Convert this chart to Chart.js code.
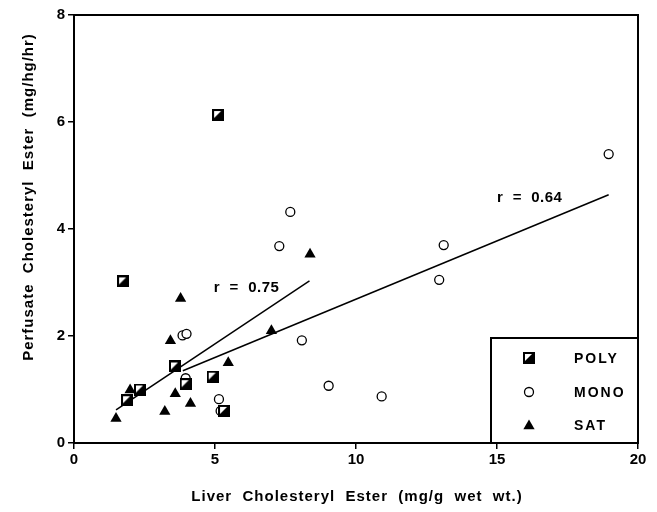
<!DOCTYPE html>
<html>
<head>
<meta charset="utf-8">
<script src="https://cdn.jsdelivr.net/npm/chart.js@4.4.1/dist/chart.umd.min.js"></script>
<style>
  html, body { margin: 0; padding: 0; background: #fff; }
  #wrap { width: 657px; height: 512px; }
</style>
</head>
<body>
<div id="wrap"><canvas id="chart" width="657" height="512"></canvas></div>
<script>
// Data
const polyX = [5.11, 1.74, 3.58, 4.92, 3.96, 2.34, 1.88, 5.32];
const polyY = [6.13, 3.02, 1.43, 1.24, 1.10, 1.00, 0.80, 0.60];

const monoX = [18.96, 7.67, 7.28, 13.11, 12.95, 3.85, 3.99, 8.08, 9.03, 3.96, 5.14, 5.20, 10.91];
const monoY = [5.40, 4.32, 3.68, 3.70, 3.05, 2.01, 2.04, 1.92, 1.07, 1.21, 0.82, 0.60, 0.87];

const satX = [8.37, 3.78, 3.42, 7.00, 5.47, 3.59, 4.13, 3.22, 1.99, 1.49];
const satY = [3.53, 2.70, 1.91, 2.10, 1.50, 0.92, 0.74, 0.59, 0.99, 0.46];

// regression lines
const fitAX = [1.49, 8.35];
const fitAY = [0.62, 3.03];
const fitBX = [3.86, 18.96];
const fitBY = [1.35, 4.64];

const seriesNames = ['POLY', 'MONO', 'SAT'];
const fitLabels = ['r  =  0.75', 'r  =  0.64'];
const fitLabelX = [4.96, 15.0];
const fitLabelY = [2.90, 4.58];

const xTitle = 'Liver  Cholesteryl  Ester  (mg/g  wet  wt.)';
const yTitle = 'Perfusate  Cholesteryl  Ester  (mg/hg/hr)';

const FONT = "'Liberation Sans', Arial, Helvetica, sans-serif";

const toPoints = (xs, ys) => xs.map((x, i) => ({ x: x, y: ys[i] }));

/**
 * Half-filled square marker (white upper-left, black lower-right)
 */
function makePolyMarker(size) {
    const c = document.createElement('canvas');
    c.width = size;
    c.height = size;
    const g = c.getContext('2d');
    g.fillStyle = '#000';
    g.fillRect(0, 0, size, size);
    g.fillStyle = '#fff';
    const b = 2;
    g.beginPath();
    g.moveTo(b, b);
    g.lineTo(size - b - 1, b);
    g.lineTo(b, size - b - 1);
    g.closePath();
    g.fill();
    return c;
}

const polyMarker = makePolyMarker(12);

function drawTriangle(ctx, x, y, r) {
    ctx.beginPath();
    ctx.moveTo(x, y - r);
    ctx.lineTo(x + Math.sin(Math.PI * 2 / 3) * r, y + 0.5 * r);
    ctx.lineTo(x - Math.sin(Math.PI * 2 / 3) * r, y + 0.5 * r);
    ctx.closePath();
    ctx.fill();
}

// Frame, annotations, legend and axis titles
const extrasPlugin = {
    id: 'extras',
    afterDraw(chart) {
        const ctx = chart.ctx;
        const area = chart.chartArea;
        const xs = chart.scales.x;
        const ys = chart.scales.y;

        ctx.save();
        ctx.strokeStyle = '#000';
        ctx.lineWidth = 2;
        ctx.beginPath();
        ctx.moveTo(area.left, area.top);
        ctx.lineTo(area.right, area.top);
        ctx.lineTo(area.right, area.bottom);
        ctx.stroke();

        // r labels
        ctx.fillStyle = '#000';
        ctx.font = 'bold 15px ' + FONT;
        ctx.letterSpacing = '0.5px';
        ctx.textAlign = 'left';
        ctx.textBaseline = 'middle';
        fitLabels.forEach((t, i) => {
            ctx.fillText(t, xs.getPixelForValue(fitLabelX[i]), ys.getPixelForValue(fitLabelY[i]));
        });

        // legend box
        const lx = 491, ly = 338;
        const lw = area.right - lx, lh = area.bottom - ly;
        ctx.fillStyle = '#fff';
        ctx.fillRect(lx, ly, lw, lh);
        ctx.lineWidth = 2;
        ctx.strokeRect(lx, ly, lw, lh);

        const rowY = [358, 392, 425];
        const mx = 529;
        ctx.drawImage(polyMarker, mx - 6, rowY[0] - 6);
        ctx.beginPath();
        ctx.lineWidth = 1.3;
        ctx.arc(mx, rowY[1], 4.5, 0, Math.PI * 2);
        ctx.stroke();
        ctx.fillStyle = '#000';
        drawTriangle(ctx, mx, rowY[2] + 1, 6.5);

        ctx.font = 'bold 14px ' + FONT;
        ctx.letterSpacing = '2px';
        seriesNames.forEach((n, i) => {
            ctx.fillText(n, 574, rowY[i] + 1);
        });

        // axis titles
        ctx.font = 'bold 15px ' + FONT;
        ctx.letterSpacing = '1px';
        ctx.textAlign = 'center';
        ctx.fillText(xTitle, (area.left + area.right) / 2 + 1, 497);
        ctx.translate(29, 197);
        ctx.rotate(-Math.PI / 2);
        ctx.fillText(yTitle, 0, 0);
        ctx.letterSpacing = '0px';
        ctx.restore();
    }
};

const tickFont = { family: FONT, size: 15, weight: 'bold' };

new Chart(document.getElementById('chart'), {
    type: 'scatter',
    data: {
        datasets: [
            {
                label: 'fitA',
                data: toPoints(fitAX, fitAY),
                showLine: true,
                borderColor: '#000',
                borderWidth: 1.5,
                pointRadius: 0
            },
            {
                label: 'fitB',
                data: toPoints(fitBX, fitBY),
                showLine: true,
                borderColor: '#000',
                borderWidth: 1.5,
                pointRadius: 0
            },
            {
                label: seriesNames[0],
                data: toPoints(polyX, polyY),
                pointStyle: polyMarker
            },
            {
                label: seriesNames[1],
                data: toPoints(monoX, monoY),
                pointStyle: 'circle',
                pointRadius: 4.5,
                backgroundColor: '#fff',
                borderColor: '#000',
                borderWidth: 1.3
            },
            {
                label: seriesNames[2],
                data: toPoints(satX, satY),
                pointStyle: 'triangle',
                pointRadius: 6.5,
                backgroundColor: '#000',
                borderColor: '#000',
                borderWidth: 0
            }
        ]
    },
    options: {
        responsive: false,
        animation: false,
        layout: { padding: { top: 15, right: 19, left: 0, bottom: 0 } },
        plugins: {
            legend: { display: false },
            tooltip: { enabled: false }
        },
        scales: {
            x: {
                type: 'linear',
                min: 0,
                max: 20,
                afterFit: (s) => { s.height = 69; },
                ticks: { stepSize: 5, color: '#000', font: tickFont, padding: 2 },
                grid: { drawOnChartArea: false, drawTicks: true, tickLength: 6, color: '#000', lineWidth: 1.5 },
                border: { display: true, color: '#000', width: 2 },
                title: { display: false, text: xTitle }
            },
            y: {
                type: 'linear',
                min: 0,
                max: 8,
                afterFit: (s) => { s.width = 74; },
                ticks: { stepSize: 2, color: '#000', font: tickFont, padding: 3 },
                grid: { drawOnChartArea: false, drawTicks: true, tickLength: 6, color: '#000', lineWidth: 1.5 },
                border: { display: true, color: '#000', width: 2 },
                title: { display: false, text: yTitle }
            }
        }
    },
    plugins: [extrasPlugin]
});
</script>
</body>
</html>
